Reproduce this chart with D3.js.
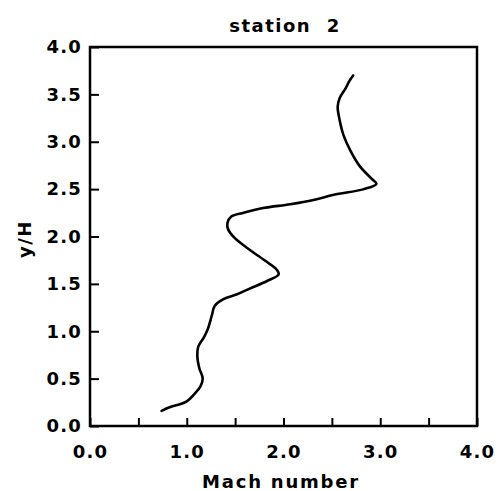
<!DOCTYPE html>
<html>
<meta charset="utf-8">
<head>
	<title>station 2</title>
	<script type="text/javascript" src="https://cdn.jsdelivr.net/npm/d3@7"></script>
	<style>
		body { margin: 0; background: #fff; }
		text { font-family: "DejaVu Sans", sans-serif; font-weight: bold; fill: #000; }
	</style>
</head>
<body>
	<div class="chart"></div>

<script type="text/javascript">
// profile: Mach number vs y/H
var mach = [0.74, 0.83, 1.00, 1.085, 1.14, 1.165, 1.13, 1.11, 1.12, 1.18, 1.22, 1.26, 1.29, 1.38, 1.52, 1.65, 1.83, 1.95, 1.93, 1.83, 1.65, 1.50, 1.43, 1.42, 1.46, 1.59, 1.79, 2.07, 2.31, 2.52, 2.83, 2.96, 2.91, 2.79, 2.69, 2.62, 2.58, 2.56, 2.58, 2.64, 2.68, 2.72];
var yH   = [0.16, 0.20, 0.26, 0.345, 0.415, 0.50, 0.61, 0.73, 0.84, 0.94, 1.03, 1.17, 1.27, 1.34, 1.39, 1.45, 1.53, 1.60, 1.65, 1.73, 1.86, 1.98, 2.07, 2.14, 2.21, 2.25, 2.30, 2.34, 2.385, 2.44, 2.50, 2.555, 2.61, 2.74, 2.91, 3.07, 3.23, 3.37, 3.46, 3.56, 3.64, 3.70];

var xTicks = [0, 0.5, 1, 1.5, 2, 2.5, 3, 3.5, 4];
var yTicks = [0, 0.5, 1, 1.5, 2, 2.5, 3, 3.5, 4];

var width = 498, height = 491;
var margin = {left: 90, right: 21, top: 47, bottom: 65};

var svg = d3.select(".chart").append("svg")
	.attr("width", width)
	.attr("height", height);

var x = d3.scaleLinear().domain([0, 4]).range([margin.left, width - margin.right]);
var y = d3.scaleLinear().domain([0, 4]).range([height - margin.bottom, margin.top]);

// x axis, ticks point inward, labels only on whole numbers
svg.append("g")
	.attr("transform", "translate(0," + y(0) + ")")
	.call(d3.axisBottom(x)
		.tickValues(xTicks)
		.tickSizeInner(-8)
		.tickSizeOuter(0)
		.tickPadding(19)
		.tickFormat(function(d) { return d % 1 === 0 ? d3.format(".1f")(d) : ""; }));

svg.append("g")
	.attr("transform", "translate(" + x(0) + ",0)")
	.call(d3.axisLeft(y)
		.tickValues(yTicks)
		.tickSizeInner(-9)
		.tickSizeOuter(0)
		.tickPadding(8)
		.tickFormat(d3.format(".1f")));

svg.selectAll(".tick line").attr("stroke", "#000").attr("stroke-width", 2);
svg.selectAll(".domain").remove();
svg.selectAll(".tick text")
	.style("font-size", "18px")
	.style("letter-spacing", "1.2px");

// frame
svg.append("rect")
	.attr("x", x(0))
	.attr("y", y(4))
	.attr("width", x(4) - x(0))
	.attr("height", y(0) - y(4))
	.attr("fill", "none")
	.attr("stroke", "#000")
	.attr("stroke-width", 2.5);

var line = d3.line()
	.x(function(d) { return x(d[0]); })
	.y(function(d) { return y(d[1]); })
	.curve(d3.curveCatmullRom.alpha(0.5));

svg.append("path")
	.datum(d3.zip(mach, yH))
	.attr("d", line)
	.attr("fill", "none")
	.attr("stroke", "#000")
	.attr("stroke-width", 2.6)
	.attr("stroke-linejoin", "round")
	.attr("stroke-linecap", "round");

svg.append("text")
	.attr("x", 285)
	.attr("y", 32)
	.attr("text-anchor", "middle")
	.attr("xml:space", "preserve")
	.style("font-size", "18px")
	.style("letter-spacing", "1.5px")
	.text("station  2");

svg.append("text")
	.attr("x", 281)
	.attr("y", 488)
	.attr("text-anchor", "middle")
	.style("font-size", "18px")
	.style("letter-spacing", "1.8px")
	.text("Mach number");

svg.append("text")
	.attr("transform", "translate(31,239) rotate(-90)")
	.attr("text-anchor", "middle")
	.style("font-size", "18px")
	.style("letter-spacing", "1.5px")
	.text("y/H");
</script>
</body>
</html>
